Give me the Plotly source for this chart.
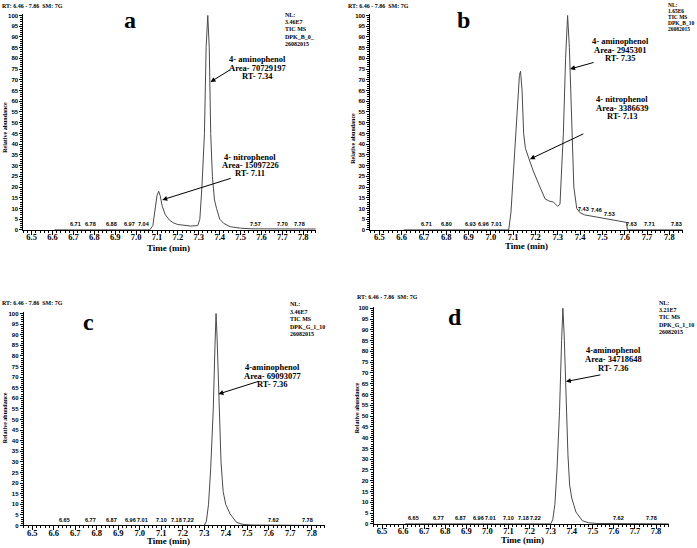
import plotly.graph_objects as go

W, H = 697, 548

# ---------------- data ----------------
time_a = [6.61, 7.065, 7.08, 7.09, 7.10, 7.108, 7.115, 7.125, 7.14, 7.16, 7.18, 7.20, 7.23, 7.26,
          7.295, 7.305, 7.315, 7.327, 7.335, 7.343, 7.35, 7.357, 7.365, 7.375, 7.385, 7.40, 7.42,
          7.45, 7.50, 7.55, 7.86]
abund_a = [0, 0, 2, 9, 16, 18, 16, 11, 7, 4.5, 3.2, 2.5, 2, 1.8,
           2, 5, 20, 45, 85, 100, 85, 45, 25, 14, 10, 5, 3,
           1.5, 0.8, 0.5, 0.4]

time_b = [6.61, 7.08, 7.09, 7.10, 7.111, 7.12, 7.128, 7.133, 7.14, 7.147, 7.155, 7.168, 7.19,
          7.22, 7.243, 7.26, 7.28, 7.30, 7.31, 7.318, 7.325, 7.335, 7.344, 7.352, 7.363, 7.372,
          7.385, 7.40, 7.42, 7.45, 7.50, 7.55, 7.60, 7.608, 7.612, 7.86]
abund_b = [0, 0, 8, 25, 45, 62, 72, 74, 65, 45, 38, 34, 27.5,
           20, 14.5, 13.5, 13, 11, 12, 30, 45, 80, 100, 85, 45, 20,
           10, 8, 7, 6.5, 5.5, 4.5, 3.8, 3.5, 0, 0]

time_c = [6.61, 7.30, 7.31, 7.32, 7.33, 7.342, 7.35, 7.355, 7.36, 7.368, 7.378, 7.388, 7.40,
          7.42, 7.45, 7.48, 7.52, 7.86]
abund_c = [0, 0, 2, 10, 27, 55, 85, 100, 88, 60, 30, 16, 10, 5.5, 1.5, 0.5, 0.2, 0]

time_d = [6.61, 7.30, 7.31, 7.32, 7.33, 7.342, 7.352, 7.358, 7.364, 7.372, 7.382, 7.39, 7.40,
          7.42, 7.45, 7.48, 7.52, 7.86]
abund_d = [0, 0, 2, 9, 25, 52, 85, 100, 88, 62, 32, 18, 12, 5.5, 1.5, 0.5, 0.2, 0]

peaks_a = ["6.71", "6.78", "6.88", "6.97", "7.04", "7.57", "7.70", "7.78"]
peak_lvl_a = [0.4, 0.4, 0.4, 0.4, 0.4, 0.5, 0.4, 0.4]
peaks_b = ["6.71", "6.80", "6.93", "6.96", "7.01", "7.43", "7.46", "7.53", "7.63", "7.71", "7.83"]
peak_lvl_b = [0.4, 0.4, 0.4, 0.4, 0.4, 7.5, 7.0, 5.0, 0.4, 0.4, 0.4]
peaks_c = ["6.65", "6.77", "6.87", "6.96", "7.01", "7.10", "7.18", "7.22", "7.62", "7.78"]
peak_lvl_c = [0.4] * 10
peaks_d = ["6.65", "6.77", "6.87", "6.96", "7.01", "7.10", "7.18", "7.22", "7.62", "7.78"]
peak_lvl_d = [0.4] * 10

nl_a = ["NL:", "3.46E7", "TIC MS", "DPK_B_0_", "26082015"]
nl_b = ["NL:", "1.65E6", "TIC MS", "DPK_B_10", "26082015"]
nl_c = ["NL:", "3.46E7", "TIC MS", "DPK_G_1_10", "26082015"]
nl_d = ["NL:", "3.21E7", "TIC MS", "DPK_G_1_10", "26082015"]

lab_a1 = ["4- aminophenol", "Area- 70729197", "RT- 7.34"]
lab_a2 = ["4- nitrophenol", "Area- 15097226", "RT- 7.11"]
lab_b1 = ["4- aminophenol", "Area- 2945301", "RT- 7.35"]
lab_b2 = ["4- nitrophenol", "Area- 3386639", "RT- 7.13"]
lab_c1 = ["4-aminophenol", "Area- 69093077", "RT- 7.36"]
lab_d1 = ["4-aminophenol", "Area- 34718648", "RT- 7.36"]

header = "RT: 6.46 - 7.86  SM: 7G"
x_title = "Time (min)"
y_title = "Relative abundance"

# ---------------- layout helpers ----------------
SERIF = "Liberation Serif"
SANS = "Liberation Sans"


def px_dom(a, b, total, flip=False):
    if flip:
        return [1 - b / total, 1 - a / total]
    return [a / total, b / total]


def xaxis(dom, anchor):
    return dict(domain=dom, range=[6.46, 7.86], anchor=anchor, showline=True, linecolor="black",
                linewidth=1, ticks="outside", ticklen=4, tickwidth=1, tickcolor="black",
                tick0=6.5, dtick=0.1, tickformat=".1f", showgrid=False, zeroline=False,
                ticklabelstandoff=-5,
                tickfont=dict(family=SERIF, size=8.5, color="black", weight="bold"),
                minor=dict(dtick=0.02, tick0=6.5, ticks="outside", ticklen=2, tickcolor="black"))


def yaxis(dom, anchor):
    return dict(domain=dom, range=[0, 100.5], anchor=anchor, showline=True, linecolor="black",
                linewidth=1, ticks="outside", ticklen=3, tickwidth=1, tickcolor="black",
                tick0=0, dtick=5, showgrid=False, zeroline=False, ticklabelstandoff=0,
                tickfont=dict(family=SANS, size=6, color="black", weight="bold"),
                minor=dict(dtick=1, ticks="outside", ticklen=2, tickcolor="black"))


def txt(x, y, s, size, family=SERIF, xanchor="center", angle=0, bold=True):
    return dict(x=x / W, y=1 - y / H, xref="paper", yref="paper", showarrow=False,
                text=f"<b>{s}</b>" if bold else s, textangle=angle,
                font=dict(family=family, size=size, color="black"),
                xanchor=xanchor, yanchor="middle")


def arrow(xr, yr, hx, hy, dx, dy):
    return dict(x=hx, y=hy, xref=xr, yref=yr, ax=dx, ay=dy, axref="pixel", ayref="pixel",
                text="", showarrow=True, arrowhead=2, arrowsize=1, arrowwidth=1,
                arrowcolor="black")


def spread(vals, gap):
    pos = [float(v) for v in vals]
    for _ in range(40):
        for i in range(1, len(pos)):
            d = pos[i] - pos[i - 1]
            if d < gap:
                sh = (gap - d) / 2
                pos[i - 1] -= sh
                pos[i] += sh
    return pos


def peak_labels(xr, yr, labels, levels):
    pos = spread([float(l) for l in labels], 0.058)
    out = []
    for p, l, lv in zip(pos, labels, levels):
        out.append(dict(x=p, y=lv, xref=xr, yref=yr, text=f"<b>{l}</b>", showarrow=False,
                        font=dict(family=SANS, size=5.5, color="black"),
                        xanchor="center", yanchor="bottom"))
    return out


fig = go.Figure()
line = dict(color="#4a4a4a", width=1)
for t, v, xa, ya in [(time_a, abund_a, "x", "y"), (time_b, abund_b, "x2", "y2"),
                     (time_c, abund_c, "x3", "y3"), (time_d, abund_d, "x4", "y4")]:
    fig.add_trace(go.Scatter(x=t, y=v, xaxis=xa, yaxis=ya, mode="lines", line=line,
                             hoverinfo="skip", showlegend=False))

ann = []
# headers
ann.append(txt(0, 4, header, 6, xanchor="left"))
ann.append(txt(346, 4, header, 6, xanchor="left"))
ann.append(txt(0, 304, header, 6, xanchor="left"))
ann.append(txt(355, 298, header, 6, xanchor="left"))
# panel letters
ann.append(txt(130, 18, "a", 24))
ann.append(txt(463, 18, "b", 24))
ann.append(txt(88, 323, "c", 24))
ann.append(txt(455, 318, "d", 24))
# NL blocks
for lines_, x0, ys, fs in [(nl_a, 283, [13, 20.3, 27.6, 34.9, 42.2], 6),
                           (nl_b, 666, [3.5, 9.4, 15.3, 21.2, 27.1], 5.5),
                           (nl_c, 288, [305, 312.5, 320, 327.5, 335], 6),
                           (nl_d, 657, [303.3, 310.8, 318.3, 325.8, 333.3], 6)]:
    for s, yy in zip(lines_, ys):
        ann.append(txt(x0, yy, s, fs, xanchor="left"))
# compound labels
for lines_, cx, ys in [(lab_a1, 257, [58, 66.5, 75]), (lab_a2, 250, [156, 164.5, 173]),
                       (lab_b1, 620, [39, 48, 57]), (lab_b2, 622, [98, 107, 115.5]),
                       (lab_c1, 272, [368, 377, 386]), (lab_d1, 613, [351, 360, 369])]:
    for s, yy in zip(lines_, ys):
        ann.append(txt(cx, yy, s, 8.5))
# arrows
ann.append(arrow("x", "y", 7.356, 69, 21, -13))
ann.append(arrow("x", "y", 7.125, 14, 70, -22))
ann.append(arrow("x2", "y2", 7.355, 75, 25, -7))
ann.append(arrow("x2", "y2", 7.175, 33, 55, -26))
ann.append(arrow("x3", "y3", 7.366, 62, 41, -13))
ann.append(arrow("x4", "y4", 7.372, 66, 36, -7))
# axis titles
for cx, cy in [(168, 248), (526, 246), (168, 543.5), (522, 542.5)]:
    ann.append(txt(cx, cy, x_title, 9))
for cx, cy in [(5, 127), (353, 138), (5, 420), (357, 410)]:
    ann.append(txt(cx, cy, y_title, 6, angle=-90))
# small peak labels
ann += peak_labels("x", "y", peaks_a, peak_lvl_a)
ann += peak_labels("x2", "y2", peaks_b, peak_lvl_b)
ann += peak_labels("x3", "y3", peaks_c, peak_lvl_c)
ann += peak_labels("x4", "y4", peaks_d, peak_lvl_d)

fig.update_layout(
    width=W, height=H, margin=dict(l=0, r=0, t=0, b=0),
    paper_bgcolor="white", plot_bgcolor="white", showlegend=False,
    xaxis=xaxis(px_dom(23.3, 315.8, W), "y"),
    yaxis=yaxis(px_dom(12.5, 230, H, flip=True), "x"),
    xaxis2=xaxis(px_dom(370.4, 682.7, W), "y2"),
    yaxis2=yaxis(px_dom(12.5, 230, H, flip=True), "x2"),
    xaxis3=xaxis(px_dom(23.7, 324.6, W), "y3"),
    yaxis3=yaxis(px_dom(313.3, 528.3, H, flip=True), "x3"),
    xaxis4=xaxis(px_dom(373.6, 668.7, W), "y4"),
    yaxis4=yaxis(px_dom(308, 526.7, H, flip=True), "x4"),
    annotations=ann,
)

fig.write_html("out.html", config={"displayModeBar": False},
               post_script="document.body.style.margin='0px';document.body.style.overflow='hidden';")
